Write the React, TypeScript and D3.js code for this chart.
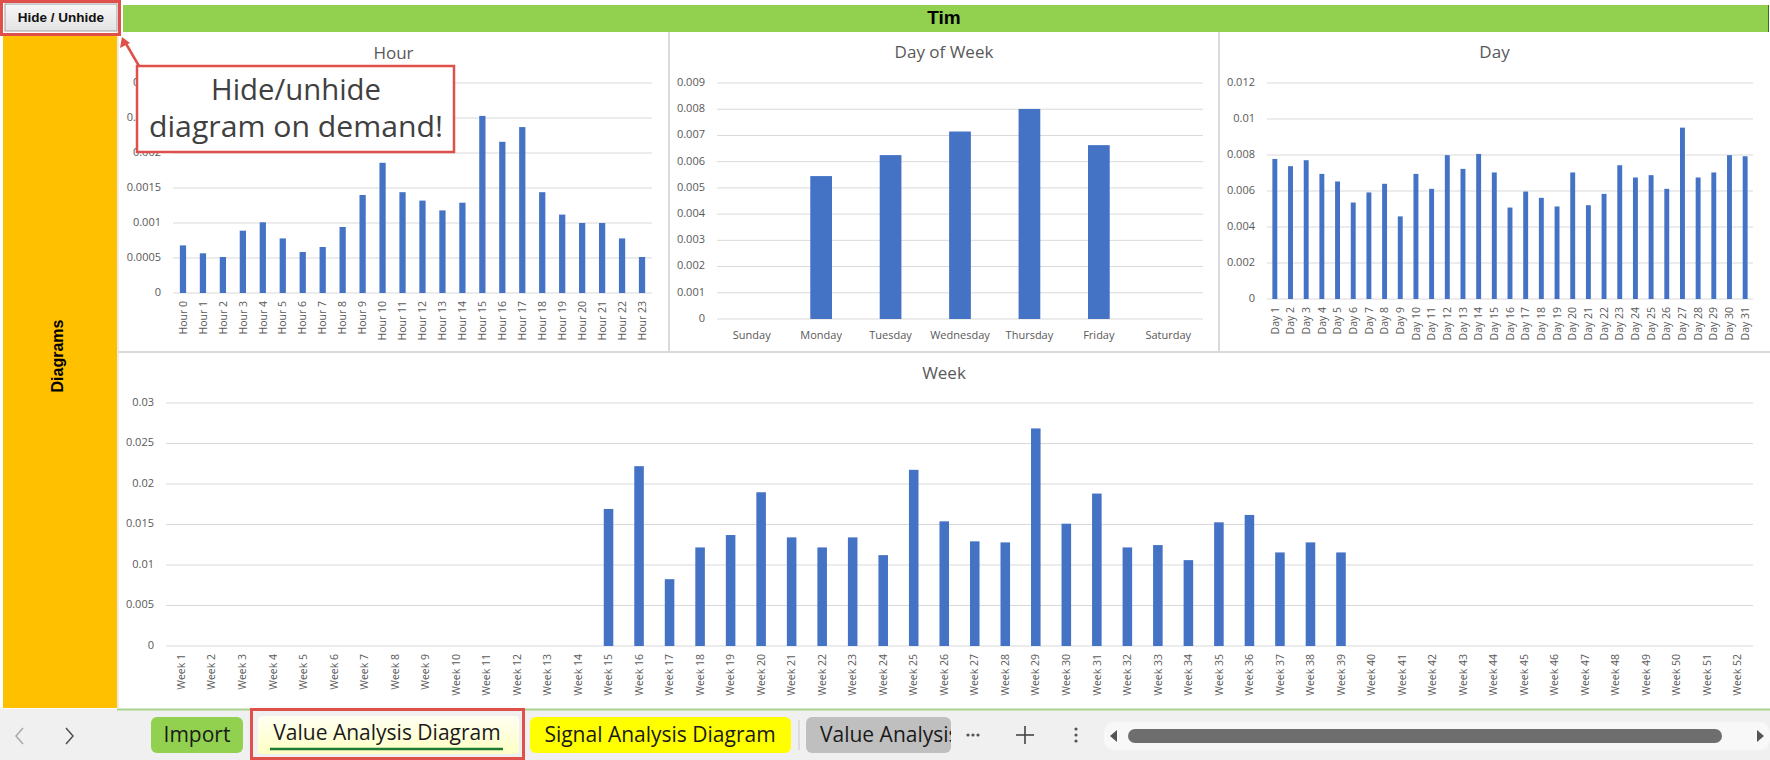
import React from "react";
import * as d3 from "d3";

// ---------- data ----------
const hourLabels = Array.from({ length: 24 }, (_, i) => `Hour ${i}`);
const hourValues = [
  0.00068, 0.000567, 0.000514, 0.00089, 0.00101, 0.00078, 0.000586, 0.000657,
  0.000943, 0.0014, 0.00186, 0.00144, 0.00132, 0.00118, 0.00129, 0.00253,
  0.00216, 0.00237, 0.00144, 0.00112, 0.001, 0.001, 0.00078, 0.000514,
];

const dowLabels = ["Sunday", "Monday", "Tuesday", "Wednesday", "Thursday", "Friday", "Saturday"];
const dowValues = [0, 0.00545, 0.00625, 0.00715, 0.00801, 0.00663, 0];

const dayLabels = Array.from({ length: 31 }, (_, i) => `Day ${i + 1}`);
const dayValues = [
  0.00778, 0.00738, 0.00771, 0.00695, 0.00653, 0.00536, 0.00592, 0.0064,
  0.00459, 0.00695, 0.00612, 0.00799, 0.00723, 0.00806, 0.00703, 0.00508,
  0.00597, 0.00562, 0.00514, 0.00703, 0.00521, 0.00584, 0.00743, 0.00675,
  0.00688, 0.00612, 0.00952, 0.00675, 0.00703, 0.00799, 0.00793,
];

const weekLabels = Array.from({ length: 52 }, (_, i) => `Week ${i + 1}`);
const weekValues = [
  0, 0, 0, 0, 0, 0, 0, 0, 0, 0, 0, 0, 0, 0,
  0.01692, 0.0222, 0.00825, 0.01217, 0.0137, 0.01898, 0.01341, 0.01217,
  0.01341, 0.01122, 0.02175, 0.01539, 0.01292, 0.01279, 0.02686, 0.0151,
  0.01882, 0.01217, 0.01246, 0.0106, 0.01527, 0.01618, 0.01155, 0.01279,
  0.01155,
  0, 0, 0, 0, 0, 0, 0, 0, 0, 0, 0, 0, 0,
];

const sheetTabs = ["Import", "Value Analysis Diagram", "Signal Analysis Diagram", "Value Analysis"];

// ---------- styles ----------
const FONT = "'Open Sans', 'Noto Sans', sans-serif";
const BAR = "#4472C4";
const GRID = "#D9D9D9";
const TXT = "#595959";

type ChartProps = {
  title: string;
  labels: string[];
  values: number[];
  frameX0: number;
  frameX1: number;
  titleY: number;
  px0: number;
  px1: number;
  pyTop: number;
  pyBottom: number;
  yMax: number;
  step: number;
  rotate: boolean;
  labelSize: number;
};

const fmt = (v: number) => String(+v.toFixed(6));

function BarChart(p: ChartProps) {
  const x = d3.scaleBand<string>().domain(p.labels).range([p.px0, p.px1]).padding(0);
  const y = d3.scaleLinear().domain([0, p.yMax]).range([p.pyBottom, p.pyTop]);
  const ticks = d3.range(0, p.yMax + p.step / 2, p.step);
  const bw = x.bandwidth() * 0.313;
  return (
    <g>
      <text
        x={(p.frameX0 + p.frameX1) / 2}
        y={p.titleY}
        textAnchor="middle"
        dominantBaseline="middle"
        fontFamily={FONT}
        fontSize={17}
        fill={TXT}
      >
        {p.title}
      </text>
      {ticks.map((t) => (
        <g key={t}>
          <line x1={p.px0} x2={p.px1} y1={y(t)} y2={y(t)} stroke={GRID} strokeWidth={1} />
          <text
            x={p.px0 - 12}
            y={y(t)}
            textAnchor="end"
            dominantBaseline="middle"
            fontFamily={FONT}
            fontSize={11}
            fill={TXT}
          >
            {fmt(t)}
          </text>
        </g>
      ))}
      {p.labels.map((l, i) => {
        const cx = (x(l) as number) + x.bandwidth() / 2;
        const v = p.values[i];
        return (
          <g key={l}>
            {v > 0 && (
              <rect x={cx - bw / 2} y={y(v)} width={bw} height={y(0) - y(v)} fill={BAR} />
            )}
            {p.rotate ? (
              <text
                transform={`translate(${cx},${p.pyBottom + 8}) rotate(-90)`}
                textAnchor="end"
                dy="0.35em"
                fontFamily={FONT}
                fontSize={p.labelSize}
                fill={TXT}
              >
                {l}
              </text>
            ) : (
              <text
                x={cx}
                y={p.pyBottom + 17}
                textAnchor="middle"
                dominantBaseline="middle"
                fontFamily={FONT}
                fontSize={p.labelSize}
                fill={TXT}
              >
                {l}
              </text>
            )}
          </g>
        );
      })}
    </g>
  );
}

export default function App() {
  const W = 1770;
  const H = 760;
  return (
    <div style={{ position: "fixed", left: 0, top: 0, width: W, height: H, background: "#fff" }}>
      <svg width={W} height={H} style={{ display: "block" }}>
        <defs>
          <linearGradient id="tabY" x1="0" y1="0" x2="0" y2="1">
            <stop offset="0" stopColor="#FFFFF2" />
            <stop offset="1" stopColor="#FFFFC4" />
          </linearGradient>
          <linearGradient id="btn" x1="0" y1="0" x2="0" y2="1">
            <stop offset="0" stopColor="#F6F6F6" />
            <stop offset="1" stopColor="#E4E4E4" />
          </linearGradient>
          <clipPath id="tabClip">
            <rect x={806} y={716} width={145} height={40} />
          </clipPath>
        </defs>

        {/* background */}
        <rect x={0} y={0} width={W} height={H} fill="#fff" />

        {/* left yellow panel */}
        <rect x={3} y={34} width={114} height={674} fill="#FFC000" />
        <text
          transform="translate(59,356) rotate(-90)"
          textAnchor="middle"
          dominantBaseline="middle"
          fontFamily="Arial, 'Liberation Sans', sans-serif"
          fontWeight="bold"
          fontSize={16}
          fill="#000"
        >
          Diagrams
        </text>

        {/* green header */}
        <rect x={123} y={5} width={1645} height={27} fill="#92D050" />
        <line x1={1768.5} x2={1768.5} y1={5} y2={32} stroke="#3E6B1C" strokeWidth={1} />
        <text
          x={944}
          y={19}
          textAnchor="middle"
          dominantBaseline="middle"
          fontFamily="Arial, 'Liberation Sans', sans-serif"
          fontWeight="bold"
          fontSize={19}
          fill="#000"
        >
          Tim
        </text>

        {/* panel separators */}
        <line x1={118} x2={118} y1={32} y2={708} stroke={GRID} strokeWidth={1} />
        <line x1={669} x2={669} y1={32} y2={352} stroke={GRID} strokeWidth={2} />
        <line x1={1219} x2={1219} y1={32} y2={352} stroke={GRID} strokeWidth={2} />
        <line x1={118} x2={1770} y1={352} y2={352} stroke={GRID} strokeWidth={2} />

        <BarChart
          title="Hour"
          labels={hourLabels}
          values={hourValues}
          frameX0={118}
          frameX1={669}
          titleY={54}
          px0={173}
          px1={652}
          pyTop={83}
          pyBottom={293}
          yMax={0.003}
          step={0.0005}
          rotate={true}
          labelSize={10.5}
        />
        <BarChart
          title="Day of Week"
          labels={dowLabels}
          values={dowValues}
          frameX0={669}
          frameX1={1219}
          titleY={53}
          px0={717}
          px1={1203}
          pyTop={83}
          pyBottom={319}
          yMax={0.009}
          step={0.001}
          rotate={false}
          labelSize={11}
        />
        <BarChart
          title="Day"
          labels={dayLabels}
          values={dayValues}
          frameX0={1219}
          frameX1={1770}
          titleY={53}
          px0={1267}
          px1={1753}
          pyTop={83}
          pyBottom={299}
          yMax={0.012}
          step={0.002}
          rotate={true}
          labelSize={10.5}
        />
        <BarChart
          title="Week"
          labels={weekLabels}
          values={weekValues}
          frameX0={118}
          frameX1={1770}
          titleY={374}
          px0={166}
          px1={1753}
          pyTop={403}
          pyBottom={646}
          yMax={0.03}
          step={0.005}
          rotate={true}
          labelSize={10.5}
        />

        {/* callout */}
        <rect x={137} y={66} width={317} height={86} fill="#fff" stroke="#E0504A" strokeWidth={2.5} />
        <text
          x={296}
          y={100}
          textAnchor="middle"
          fontFamily={FONT}
          fontSize={29}
          fill="#404040"
          textLength={170}
          lengthAdjust="spacingAndGlyphs"
        >
          Hide/unhide
        </text>
        <text
          x={296}
          y={137}
          textAnchor="middle"
          fontFamily={FONT}
          fontSize={29}
          fill="#404040"
          textLength={294}
          lengthAdjust="spacingAndGlyphs"
        >
          diagram on demand!
        </text>
        <line x1={139} y1={66} x2={125} y2={42} stroke="#E0504A" strokeWidth={2.5} />
        <path d="M122,37 L120,48 L130,43 Z" fill="#E0504A" />

        {/* Hide / Unhide button */}
        <rect x={5} y={4} width={112} height={27} fill="url(#btn)" stroke="#A0A0A0" strokeWidth={1} />
        <rect x={1.5} y={1.5} width={118} height={33} fill="none" stroke="#E0504A" strokeWidth={3} />
        <text
          x={61}
          y={18.5}
          textAnchor="middle"
          dominantBaseline="middle"
          fontFamily="Arial, 'Liberation Sans', sans-serif"
          fontWeight="bold"
          fontSize={13.5}
          fill="#111"
        >
          Hide / Unhide
        </text>

        {/* bottom sheet bar */}
        <rect x={0} y={709} width={W} height={51} fill="#F0F0F0" />
        <line x1={117} x2={W} y1={709.5} y2={709.5} stroke="#A9D18E" strokeWidth={2} />
        <polyline points="23,728 16,736 23,744" fill="none" stroke="#A8A8A8" strokeWidth={1.5} />
        <polyline points="66,728 73,736 66,744" fill="none" stroke="#505050" strokeWidth={1.5} />

        <rect x={151} y={717} width={92} height={36} rx={6} fill="#92D050" />
        <text x={197} y={736} textAnchor="middle" dominantBaseline="middle" fontFamily={FONT} fontSize={21} fill="#1a1a1a">
          {sheetTabs[0]}
        </text>

        <rect x={258} y={716} width={261} height={38} rx={4} fill="url(#tabY)" />
        <text x={387} y={734} textAnchor="middle" dominantBaseline="middle" fontFamily={FONT} fontSize={21} fill="#1a1a1a">
          {sheetTabs[1]}
        </text>
        <line x1={270} x2={503} y1={749} y2={749} stroke="#1E7B34" strokeWidth={2.5} />
        <rect x={251.5} y={709.5} width={272} height={49} fill="none" stroke="#E0504A" strokeWidth={3} />

        <rect x={530} y={717} width={261} height={36} rx={6} fill="#FFFF00" />
        <text x={660} y={736} textAnchor="middle" dominantBaseline="middle" fontFamily={FONT} fontSize={21} fill="#1a1a1a">
          {sheetTabs[2]}
        </text>
        <line x1={799} x2={799} y1={720} y2={750} stroke="#C8C8C8" strokeWidth={1} />

        <rect x={806} y={717} width={145} height={36} rx={6} fill="#BFBFBF" />
        <g clipPath="url(#tabClip)">
          <text x={820} y={736} dominantBaseline="middle" fontFamily={FONT} fontSize={21} fill="#1a1a1a">
            {sheetTabs[3]}
          </text>
        </g>
        <g fill="#555">
          <circle cx={968} cy={735} r={1.6} />
          <circle cx={973} cy={735} r={1.6} />
          <circle cx={978} cy={735} r={1.6} />
        </g>
        <line x1={1016} x2={1034} y1={735} y2={735} stroke="#444" strokeWidth={1.6} />
        <line x1={1025} x2={1025} y1={726} y2={744} stroke="#444" strokeWidth={1.6} />
        <g fill="#555">
          <circle cx={1076} cy={729} r={1.6} />
          <circle cx={1076} cy={735} r={1.6} />
          <circle cx={1076} cy={741} r={1.6} />
        </g>

        <rect x={1104} y={722} width={666} height={28} rx={10} fill="#F8F8F8" />
        <path d="M1110,736 L1117,730 L1117,742 Z" fill="#555" />
        <rect x={1128} y={729} width={594} height={14} rx={7} fill="#6E6E6E" />
        <path d="M1764,736 L1757,730 L1757,742 Z" fill="#555" />
      </svg>
    </div>
  );
}
